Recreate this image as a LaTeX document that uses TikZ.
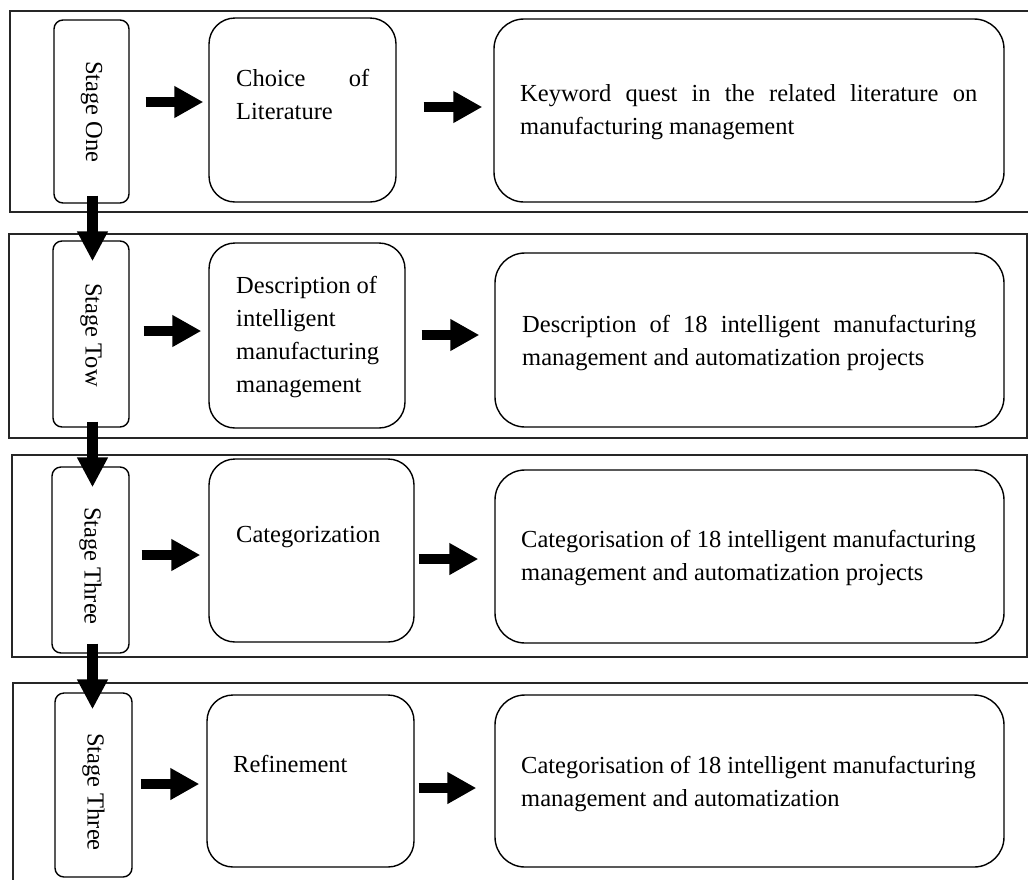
\documentclass[tikz,border=0pt]{standalone}
\usepackage{fontspec}
\setmainfont{Liberation Serif}
\usetikzlibrary{arrows.meta,fit}
\newcommand{\txtsize}{\fontsize{24.5}{33}\selectfont}
% plain interword spaces (the ragged alignment of TikZ widens them)
\newcommand{\plainspaces}{\spaceskip=0pt\relax\xspaceskip=0pt\relax}
% a line stretched to the given width, as in justified text
\newcommand{\fullline}[2]{\makebox[#1][s]{\plainspaces #2}}
\begin{document}
\begin{tikzpicture}[x=1pt,y=-1pt,
  every node/.style={font=\txtsize},
  panel/.style={draw=black!85, line width=1.8pt, inner sep=0pt},
  stagebox/.style={draw, rounded corners=9pt, line width=1.4pt, inner sep=0pt},
  midbox/.style={draw, rounded corners=26pt, line width=1.4pt, inner sep=0pt},
  rightbox/.style={draw, rounded corners=30pt, line width=1.4pt, inner sep=0pt},
  stagetext/.style={rotate=-90, inner sep=0pt},
  boxtext/.style={anchor=north west, inner sep=0pt, align=left},
  blockarrow/.style={line width=10pt, -{Triangle[width=30pt,length=29pt]}},
  downarrow/.style={line width=11pt, -{Triangle[width=29pt,length=30pt]}}
]
\useasboundingbox (0,0) rectangle (1028,879);
\clip (0,0) rectangle (1028,879);

% stage panels
\node[panel, fit={(10,11) (1040,212)}] (p1) {};
\node[panel, fit={(9,234) (1027,438)}] (p2) {};
\node[panel, fit={(12,455) (1027,657)}] (p3) {};
\node[panel, fit={(13,683) (1040,895)}] (p4) {};

% stage labels
\node[stagebox, fit={(54,20) (129,203)}] (s1) {};
\node[stagebox, fit={(53,241) (129,427)}] (s2) {};
\node[stagebox, fit={(52,467) (129,653)}] (s3) {};
\node[stagebox, fit={(55,693) (132,877)}] (s4) {};
\node[stagetext] (s1t) at (91.5,112) {\plainspaces Stage One};
\node[stagetext] (s2t) at (91,335) {\plainspaces Stage Tow};
\node[stagetext] (s3t) at (90.5,566) {\plainspaces Stage Three};
\node[stagetext] (s4t) at (93.5,792) {\plainspaces Stage Three};

% activity boxes
\node[midbox, fit={(209,18) (396,202)}] (m1) {};
\node[midbox, fit={(209,243) (405,428)}] (m2) {};
\node[midbox, fit={(209,459) (414,642)}] (m3) {};
\node[midbox, fit={(207,695) (414,867)}] (m4) {};
\node[boxtext, text width=133pt] (m1t) at (236,62.9)
  {\plainspaces\strut\fullline{133pt}{Choice of}\\Literature};
\node[boxtext, text width=160pt] (m2t) at (236,269.9)
  {\plainspaces\strut Description of\\intelligent\\manufacturing\\management};
\node[boxtext, text width=170pt] (m3t) at (236,518.9) {\strut Categorization};
\node[boxtext, text width=170pt] (m4t) at (233,748.9) {\strut Refinement};

% outcome boxes
\node[rightbox, fit={(494,19) (1004,202)}] (r1) {};
\node[rightbox, fit={(495,253) (1004,427)}] (r2) {};
\node[rightbox, fit={(495,470) (1004,643)}] (r3) {};
\node[rightbox, fit={(495,695) (1004,867)}] (r4) {};
\node[boxtext, text width=470pt] (r1t) at (520,77.9)
  {\plainspaces\strut\fullline{457pt}{Keyword quest in the related literature on}\\manufacturing management};
\node[boxtext, text width=470pt] (r2t) at (522,308.9)
  {\plainspaces\strut\fullline{454pt}{Description of 18 intelligent manufacturing}\\management and automatization projects};
\node[boxtext, text width=470pt] (r3t) at (521,523.9)
  {\plainspaces\strut Categorisation of 18 intelligent manufacturing\\management and automatization projects};
\node[boxtext, text width=470pt] (r4t) at (521,749.9)
  {\plainspaces\strut Categorisation of 18 intelligent manufacturing\\management and automatization};

% arrow heights
\coordinate (y1a) at (0,102);
\coordinate (y1b) at (0,107);
\coordinate (y2a) at (0,331);
\coordinate (y2b) at (0,335);
\coordinate (y3a) at (0,555);
\coordinate (y3b) at (0,559);
\coordinate (y4a) at (0,784);
\coordinate (y4b) at (0,788);
\coordinate (vx) at (92.5,0);

% horizontal flow
\draw[blockarrow, shorten <=16pt, shorten >=5pt] (s1.east |- y1a) -- (m1.west |- y1a);
\draw[blockarrow, shorten <=27pt, shorten >=11pt] (m1.east |- y1b) -- (r1.west |- y1b);
\draw[blockarrow, shorten <=14pt, shorten >=7pt] (s2.east |- y2a) -- (m2.west |- y2a);
\draw[blockarrow, shorten <=16pt, shorten >=15pt] (m2.east |- y2b) -- (r2.west |- y2b);
\draw[blockarrow, shorten <=12pt, shorten >=8pt] (s3.east |- y3a) -- (m3.west |- y3a);
\draw[blockarrow, shorten <=4pt, shorten >=16pt] (m3.east |- y3b) -- (r3.west |- y3b);
\draw[blockarrow, shorten <=8pt, shorten >=7pt] (s4.east |- y4a) -- (m4.west |- y4a);
\draw[blockarrow, shorten <=4pt, shorten >=18pt] (m4.east |- y4b) -- (r4.west |- y4b);

% stage to stage
\draw[downarrow, shorten <=-8pt, shorten >=-21pt] (s1.south -| vx) -- (s2.north -| vx);
\draw[downarrow, shorten <=-6pt, shorten >=-21pt] (s2.south -| vx) -- (s3.north -| vx);
\draw[downarrow, shorten <=-10pt, shorten >=-17pt] (s3.south -| vx) -- (s4.north -| vx);
\end{tikzpicture}
\end{document}
